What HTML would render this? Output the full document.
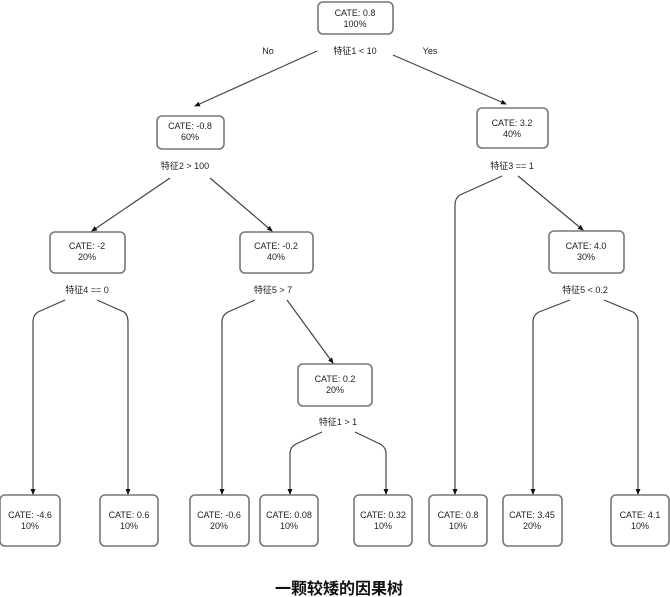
<!DOCTYPE html>
<html><head><meta charset="utf-8"><style>
html,body{margin:0;padding:0;background:#fff;width:670px;height:597px;overflow:hidden}
svg text{font-family:"Liberation Sans","Noto Sans CJK SC",sans-serif;font-size:9px;fill:#222;text-anchor:middle}
</style></head><body>
<svg width="670" height="597" viewBox="0 0 670 597" xmlns="http://www.w3.org/2000/svg">
<defs><marker id="a" markerWidth="6" markerHeight="6" refX="5" refY="3" orient="auto" markerUnits="userSpaceOnUse"><path d="M0,0.5 L6,3 L0,5.5 z" fill="#111"/></marker></defs>
<g fill="#fff" stroke="#777" stroke-width="1.6">
<rect x="318" y="2" width="75" height="32" rx="5"/>
<rect x="157" y="116" width="67" height="33" rx="5"/>
<rect x="477" y="108" width="71" height="40" rx="5"/>
<rect x="50" y="232" width="75" height="41" rx="5"/>
<rect x="240" y="232" width="73" height="41" rx="5"/>
<rect x="549" y="231" width="75" height="42" rx="5"/>
<rect x="298" y="364" width="74" height="42" rx="5"/>
<rect x="0" y="495" width="60" height="51" rx="5"/>
<rect x="100" y="495" width="58" height="51" rx="5"/>
<rect x="190" y="495" width="59" height="51" rx="5"/>
<rect x="260" y="495" width="58" height="51" rx="5"/>
<rect x="354" y="495" width="58" height="51" rx="5"/>
<rect x="429" y="495" width="58" height="51" rx="5"/>
<rect x="503" y="495" width="59" height="51" rx="5"/>
<rect x="611" y="495" width="58" height="51" rx="5"/>
</g>
<g fill="none" stroke="#444" stroke-width="1.2" marker-end="url(#a)">
<path d="M317,51 L195,106"/>
<path d="M393,55 L506,104"/>
<path d="M170,178 L92,231"/>
<path d="M210,178 L272,231"/>
<path d="M502,176 L460,195 Q455,198 455,205 L455,494"/>
<path d="M518,176 L583,230"/>
<path d="M65,300 L38,312 Q33,315 33,322 L33,494"/>
<path d="M97,300 L124,312 Q128,315 128,322 L128,494"/>
<path d="M255,300 L228,312 Q222,315 222,322 L222,494"/>
<path d="M287,300 L333,363"/>
<path d="M322,432 L296,444 Q290,447 290,454 L290,494"/>
<path d="M355,432 L380,444 Q386,447 386,454 L386,494"/>
<path d="M570,300 L539,312 Q533,315 533,322 L533,494"/>
<path d="M604,300 L633,312 Q638,315 638,322 L638,494"/>
</g>
<text x="355" y="16">CATE: 0.8</text><text x="355" y="27">100%</text>
<text x="268" y="54">No</text><text x="355" y="54">特征1 &lt; 10</text><text x="430" y="54">Yes</text>
<text x="190" y="129">CATE: -0.8</text><text x="190" y="140">60%</text>
<text x="512" y="126">CATE: 3.2</text><text x="512" y="137">40%</text>
<text x="185" y="169">特征2 &gt; 100</text><text x="512" y="169">特征3 == 1</text>
<text x="87" y="249">CATE: -2</text><text x="87" y="260">20%</text>
<text x="276" y="249">CATE: -0.2</text><text x="276" y="260">40%</text>
<text x="586" y="249">CATE: 4.0</text><text x="586" y="260">30%</text>
<text x="87" y="293">特征4 == 0</text><text x="273" y="293">特征5 &gt; 7</text><text x="585" y="293">特征5 &lt; 0.2</text>
<text x="335" y="382">CATE: 0.2</text><text x="335" y="393">20%</text>
<text x="338" y="425">特征1 &gt; 1</text>
<g style="font-size:9.5px">
<text x="30" y="518">CATE: -4.6</text><text x="30" y="529">10%</text>
<text x="129" y="518">CATE: 0.6</text><text x="129" y="529">10%</text>
<text x="219" y="518">CATE: -0.6</text><text x="219" y="529">20%</text>
<text x="289" y="518">CATE: 0.08</text><text x="289" y="529">10%</text>
<text x="383" y="518">CATE: 0.32</text><text x="383" y="529">10%</text>
<text x="458" y="518">CATE: 0.8</text><text x="458" y="529">10%</text>
<text x="532" y="518">CATE: 3.45</text><text x="532" y="529">20%</text>
<text x="640" y="518">CATE: 4.1</text><text x="640" y="529">10%</text>
</g>
<text x="339" y="594" style="font-size:16px;font-weight:bold;fill:#111">一颗较矮的因果树</text>
</svg>
</body></html>
